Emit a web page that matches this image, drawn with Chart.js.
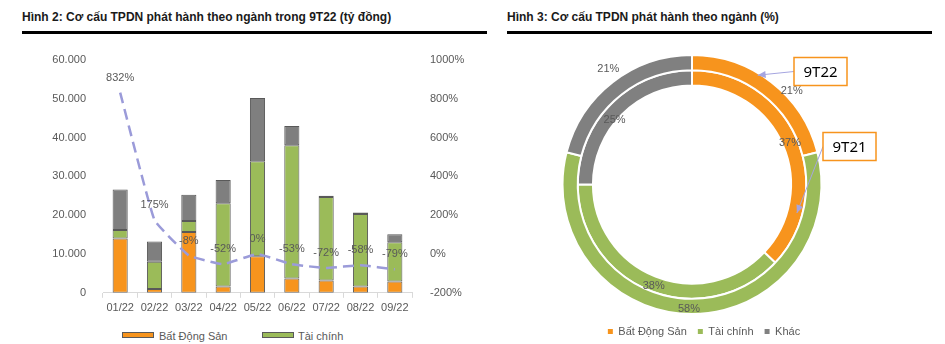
<!DOCTYPE html>
<html>
<head>
<meta charset="utf-8">
<script src="https://cdn.jsdelivr.net/npm/chart.js@4.4.1/dist/chart.umd.min.js"></script>
<style>
  html, body { margin: 0; padding: 0; background: #fff; }
  body { width: 945px; height: 344px; position: relative; overflow: hidden; font-family: "Liberation Sans", Arial, sans-serif; }
  .title { position: absolute; top: 10px; font-weight: bold; font-size: 12px; color: #1a1a1a; white-space: nowrap; }
  .rule { position: absolute; top: 31px; height: 3px; background: #000; }
  #barWrap { position: absolute; left: 0; top: 40px; width: 470px; height: 279px; }
  #donutWrap { position: absolute; left: 540px; top: 40px; width: 346px; height: 307px; }
  .lg { position: absolute; font-size: 11px; color: #595959; white-space: nowrap; }
  .lgbox { position: absolute; width: 30px; height: 4px; border: 1px solid #595959; }
</style>
</head>
<body>
<div class="title" style="left:22px">Hình 2: Cơ cấu TPDN phát hành theo ngành trong 9T22 (tỷ đồng)</div>
<div class="rule" style="left:22px;width:465px"></div>
<div class="title" style="left:507px">Hình 3: Cơ cấu TPDN phát hành theo ngành (%)</div>
<div class="rule" style="left:507px;width:425px"></div>

<div id="barWrap"><canvas id="barChart"></canvas></div>
<div id="donutWrap"><canvas id="donutChart"></canvas></div>

<div class="lgbox" style="left:122px;top:332px;background:#f7941d"></div>
<div class="lg" style="left:159px;top:330px">Bất Động Sản</div>
<div class="lgbox" style="left:262px;top:332px;background:#9bbb59"></div>
<div class="lg" style="left:298px;top:330px">Tài chính</div>

<script>
// Hình 2 — issuance by sector per month (billion VND) + yoy change (%)
var months = ['01/22', '02/22', '03/22', '04/22', '05/22', '06/22', '07/22', '08/22', '09/22'];
var batDongSan = [14000, 1000, 15700, 1600, 9400, 3700, 3200, 1600, 2900];
var taiChinh = [2200, 7000, 2800, 21500, 24500, 34300, 21500, 18700, 10100];
var khac = [10400, 5200, 6800, 6000, 16300, 5000, 300, 400, 2100];
var tangTruong = [832, 175, -8, -52, 0, -53, -72, -58, -79];

// Hình 3 — sector shares (%)
var sectors = ['Bất Động Sản', 'Tài chính', 'Khác'];
var share9T22 = [21, 58, 21];
var share9T21 = [37, 38, 25];

var ORANGE = '#f7941d', GREEN = '#9bbb59', GREY = '#7f7f7f', LABEL = '#595959';

Chart.defaults.font.family = '"Liberation Sans", Arial, sans-serif';
Chart.defaults.font.size = 11;
Chart.defaults.color = LABEL;
Chart.defaults.animation = false;

function fmtThousands(v) {
  return String(v).replace(/\B(?=(\d{3})+(?!\d))/g, '.');
}

// percentage labels above the dashed line
var lineLabels = {
  id: 'lineLabels',
  afterDatasetsDraw: function(chart) {
    var meta = chart.getDatasetMeta(3);
    var ctx = chart.ctx;
    ctx.save();
    ctx.font = '11px "Liberation Sans", Arial, sans-serif';
    ctx.fillStyle = LABEL;
    ctx.textAlign = 'center';
    ctx.textBaseline = 'middle';
    meta.data.forEach(function(pt, i) {
      ctx.fillText(tangTruong[i] + '%', pt.x, pt.y - 15);
    });
    ctx.restore();
  }
};

var barStyle = { borderColor: '#595959', borderWidth: 1, borderSkipped: false, barPercentage: 0.44, categoryPercentage: 1, order: 1 };

new Chart(document.getElementById('barChart'), {
  type: 'bar',
  data: {
    labels: months,
    datasets: [
      Object.assign({ label: 'Bất Động Sản', data: batDongSan, backgroundColor: ORANGE }, barStyle),
      Object.assign({ label: 'Tài chính', data: taiChinh, backgroundColor: GREEN }, barStyle),
      Object.assign({ label: 'Khác', data: khac, backgroundColor: GREY }, barStyle),
      {
        type: 'line',
        label: 'Tăng trưởng',
        data: tangTruong,
        yAxisID: 'y1',
        borderColor: '#9b9bd9',
        borderWidth: 2.5,
        borderDash: [11, 6],
        pointRadius: 0,
        tension: 0.1,
        fill: false,
        order: 0
      }
    ]
  },
  options: {
    responsive: true,
    maintainAspectRatio: false,
    layout: { padding: { top: 20, left: 0, right: 0, bottom: 0 } },
    plugins: { legend: { display: false }, tooltip: { enabled: false } },
    scales: {
      x: {
        stacked: true,
        grid: { drawOnChartArea: false, tickLength: 5, color: '#d9d9d9' },
        border: { color: '#d9d9d9' },
        ticks: { padding: 4 }
      },
      y: {
        stacked: true,
        min: 0,
        max: 60000,
        grid: { display: false },
        border: { display: false },
        ticks: { stepSize: 10000, padding: 9, callback: function(v) { return fmtThousands(v); } },
        afterFit: function(s) { s.width = 103; }
      },
      y1: {
        position: 'right',
        min: -200,
        max: 1000,
        grid: { display: false },
        border: { display: false },
        ticks: { stepSize: 200, padding: 10, callback: function(v) { return v + '%'; } },
        afterFit: function(s) { s.width = 58; }
      }
    }
  },
  plugins: [lineLabels]
});

function arcPoint(arc, frac, r) {
  var a = arc.startAngle + (arc.endAngle - arc.startAngle) * frac;
  return { x: arc.x + r * Math.cos(a), y: arc.y + r * Math.sin(a) };
}

// labels on each ring segment, at the ring middle with the small nudges
// the source chart used to keep them clear of the arrows
var ringNudge = [
  [[25, 3], [-3, 3], [-9, -19]],
  [[0, 1], [1, 2], [-2, 11]]
];
var ringLabels = {
  id: 'ringLabels',
  afterDatasetsDraw: function(chart) {
    var ctx = chart.ctx;
    ctx.save();
    ctx.font = '11px "Liberation Sans", Arial, sans-serif';
    ctx.fillStyle = LABEL;
    ctx.textAlign = 'center';
    ctx.textBaseline = 'middle';
    chart.data.datasets.forEach(function(ds, di) {
      chart.getDatasetMeta(di).data.forEach(function(arc, i) {
        var p = arcPoint(arc, 0.5, (arc.innerRadius + arc.outerRadius) / 2);
        var n = ringNudge[di][i];
        ctx.fillText(ds.data[i] + '%', p.x + n[0], p.y + n[1]);
      });
    });
    ctx.restore();
  }
};

// "9T22" / "9T21" callout boxes with arrows onto the rings
var callouts = {
  id: 'callouts',
  afterDraw: function(chart) {
    var ctx = chart.ctx;
    var outer = chart.getDatasetMeta(0).data[0];
    var inner = chart.getDatasetMeta(1).data[0];
    var cx = outer.x, cy = outer.y;
    var items = [
      { text: '9T22', bx: cx + 102, by: cy - 127, tip: arcPoint(outer, 0.41, outer.outerRadius - 2) },
      { text: '9T21', bx: cx + 131, by: cy - 52, tip: arcPoint(inner, 0.79, (inner.innerRadius + inner.outerRadius) / 2 + 2) }
    ];
    ctx.save();
    items.forEach(function(it) {
      var w = 53, h = 28;
      var sx = it.bx, sy = it.by + h / 2;
      // arrow
      ctx.strokeStyle = '#a5a5e0';
      ctx.fillStyle = '#a5a5e0';
      ctx.lineWidth = 1;
      ctx.beginPath();
      ctx.moveTo(sx, sy);
      ctx.lineTo(it.tip.x, it.tip.y);
      ctx.stroke();
      var ang = Math.atan2(it.tip.y - sy, it.tip.x - sx);
      ctx.beginPath();
      ctx.moveTo(it.tip.x, it.tip.y);
      ctx.lineTo(it.tip.x - 8 * Math.cos(ang) + 3.5 * Math.sin(ang), it.tip.y - 8 * Math.sin(ang) - 3.5 * Math.cos(ang));
      ctx.lineTo(it.tip.x - 8 * Math.cos(ang) - 3.5 * Math.sin(ang), it.tip.y - 8 * Math.sin(ang) + 3.5 * Math.cos(ang));
      ctx.closePath();
      ctx.fill();
      // box
      ctx.fillStyle = '#fff';
      ctx.fillRect(it.bx, it.by, w, h);
      ctx.strokeStyle = ORANGE;
      ctx.lineWidth = 1.5;
      ctx.strokeRect(it.bx, it.by, w, h);
      ctx.fillStyle = '#000';
      ctx.font = '15px "Noto Sans", "Liberation Sans", sans-serif';
      ctx.textAlign = 'center';
      ctx.textBaseline = 'middle';
      ctx.fillText(it.text, it.bx + w / 2, it.by + h / 2 + 1);
    });
    ctx.restore();
  }
};

// legend in the source sits a little right of the ring centre
var legendShift = {
  id: 'legendShift',
  afterLayout: function(chart) {
    if (chart.legend) {
      chart.legend.left += 12;
      chart.legend.right += 12;
    }
  }
};

var ringStyle = { backgroundColor: [ORANGE, GREEN, '#808080'], borderColor: '#ffffff', borderWidth: 2 };

new Chart(document.getElementById('donutChart'), {
  type: 'doughnut',
  data: {
    labels: sectors,
    datasets: [
      Object.assign({ label: '9T22', data: share9T22 }, ringStyle),
      Object.assign({ label: '9T21', data: share9T21 }, ringStyle)
    ]
  },
  options: {
    responsive: true,
    maintainAspectRatio: false,
    cutout: '76.5%',
    layout: { padding: { top: 14, left: 10, right: 52, bottom: 0 } },
    plugins: {
      tooltip: { enabled: false },
      legend: {
        position: 'bottom',
        labels: {
          boxWidth: 5,
          boxHeight: 5,
          padding: 11,
          color: LABEL,
          font: { size: 11 },
          generateLabels: function(chart) {
            var items = Chart.overrides.doughnut.plugins.legend.labels.generateLabels(chart);
            items.forEach(function(it) { it.lineWidth = 0; });
            return items;
          }
        }
      }
    }
  },
  plugins: [ringLabels, callouts, legendShift]
});
</script>
</body>
</html>
